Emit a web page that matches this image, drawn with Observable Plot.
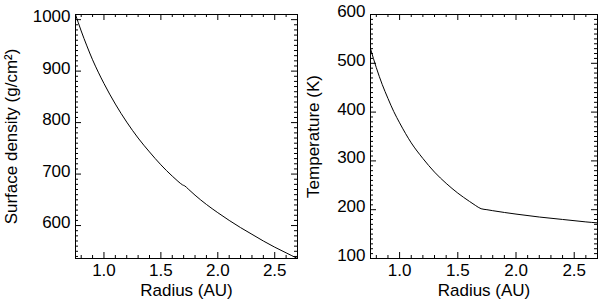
<!DOCTYPE html>
<html>
<head>
<meta charset="utf-8">
<script src="https://cdn.jsdelivr.net/npm/d3@7"></script>
<script src="https://cdn.jsdelivr.net/npm/@observablehq/plot@0.6"></script>
<style>
  html, body { margin: 0; padding: 0; background: #fff; }
  #wrap { display: flex; flex-direction: row; width: 600px; height: 307px; }
  svg { display: block; }
</style>
</head>
<body>
<div id="wrap"></div>
<script>
// ---- data ----
const radius = [0.75, 0.80, 0.85, 0.90, 0.95, 1.00, 1.10, 1.20, 1.30, 1.40, 1.50, 1.60, 1.65, 1.69, 1.71, 1.74, 1.80, 1.90, 2.00, 2.10, 2.20, 2.30, 2.40, 2.50, 2.60, 2.70];
const sigma  = [1010, 978, 949, 922, 898, 876, 836, 801, 770, 743, 718, 696, 686, 679, 677, 671, 659, 641, 625, 610, 596, 583, 570, 558, 547, 536];

const radiusT = [0.75, 0.80, 0.85, 0.90, 0.95, 1.00, 1.10, 1.20, 1.30, 1.40, 1.50, 1.60, 1.65, 1.70, 1.75, 1.80, 2.00, 2.20, 2.40, 2.60, 2.70];
const temp    = [530, 491, 457, 428, 401, 378, 337, 305, 277, 254, 234, 217, 209, 202, 200, 198, 191, 185, 180, 175, 173];

const xTicks = [1.0, 1.5, 2.0, 2.5];
const xTickLabels = ["1.0", "1.5", "2.0", "2.5"];
const sigmaTicks = [600, 700, 800, 900, 1000];
const tempTicks = [100, 200, 300, 400, 500, 600];

const xTitle = "Radius (AU)";
const sigmaTitle = "Surface density (g/cm²)";
const tempTitle = "Temperature (K)";

// ---- layout ----
const FONT = "Liberation Sans, Arial, Helvetica, sans-serif";
const FS = 17;
const H = 307, MT = 14, MB = 49;
const xDomain = [0.75, 2.70];
const xMinor = d3.range(8, 28).map(d => d / 10).filter(d => !xTicks.some(t => Math.abs(t - d) < 1e-9));

function panel({width, marginLeft, marginRight, yDomain, yTicks, yMinorStep, xs, ys, yTitle, titleDx}) {
  const fw = width - marginLeft - marginRight;
  const fh = H - MT - MB;
  const yMinor = d3.range(Math.ceil(yDomain[0] / yMinorStep) * yMinorStep, yDomain[1] + 1e-9, yMinorStep)
    .filter(d => !yTicks.includes(d));
  const data = xs.map((x, i) => ({x, y: ys[i]}));
  const tk = {stroke: "#000", strokeWidth: 1};
  return Plot.plot({
    width, height: H,
    marginLeft, marginRight, marginTop: MT, marginBottom: MB,
    style: {fontFamily: FONT, fontSize: FS + "px", color: "#000", background: "#fff"},
    x: {domain: xDomain, axis: null},
    y: {domain: yDomain, axis: null},
    marks: [
      Plot.line(data, {x: "x", y: "y", stroke: "#000", strokeWidth: 1, curve: "monotone-x", clip: true}),
      // minor ticks (inward, all four sides)
      Plot.tickX(xMinor, {x: d => d, insetTop: fh - 3, ...tk}),
      Plot.tickX(xMinor, {x: d => d, insetBottom: fh - 3, ...tk}),
      Plot.tickY(yMinor, {y: d => d, insetRight: fw - 3, ...tk}),
      Plot.tickY(yMinor, {y: d => d, insetLeft: fw - 3, ...tk}),
      // major ticks
      Plot.tickX(xTicks, {x: d => d, insetTop: fh - 6, ...tk}),
      Plot.tickX(xTicks, {x: d => d, insetBottom: fh - 6, ...tk}),
      Plot.tickY(yTicks, {y: d => d, insetRight: fw - 6, ...tk}),
      Plot.tickY(yTicks, {y: d => d, insetLeft: fw - 6, ...tk}),
      // tick labels
      Plot.text(xTicks, {x: d => d, frameAnchor: "bottom", dy: 17, text: (d, i) => xTickLabels[i], fill: "#000", fontSize: FS}),
      Plot.text(yTicks, {y: d => d, frameAnchor: "left", dx: -5, dy: -3, textAnchor: "end", text: d => String(d), fill: "#000", fontSize: FS}),
      // axis titles
      Plot.text([xTitle], {frameAnchor: "bottom", dy: 37, text: d => d, fill: "#000", fontSize: FS}),
      Plot.text([yTitle], {frameAnchor: "left", textAnchor: "middle", rotate: -90, dx: titleDx, text: d => d, fill: "#000", fontSize: FS}),
      Plot.frame({stroke: "#000", strokeWidth: 1})
    ]
  });
}

const wrap = document.getElementById("wrap");
wrap.append(panel({width: 300, marginLeft: 75, marginRight: 3, yDomain: [536, 1010], yTicks: sigmaTicks, yMinorStep: 10, xs: radius, ys: sigma, yTitle: sigmaTitle, titleDx: -64}));
wrap.append(panel({width: 300, marginLeft: 70, marginRight: 3, yDomain: [100, 600], yTicks: tempTicks, yMinorStep: 10, xs: radiusT, ys: temp, yTitle: tempTitle, titleDx: -57}));
</script>
</body>
</html>
